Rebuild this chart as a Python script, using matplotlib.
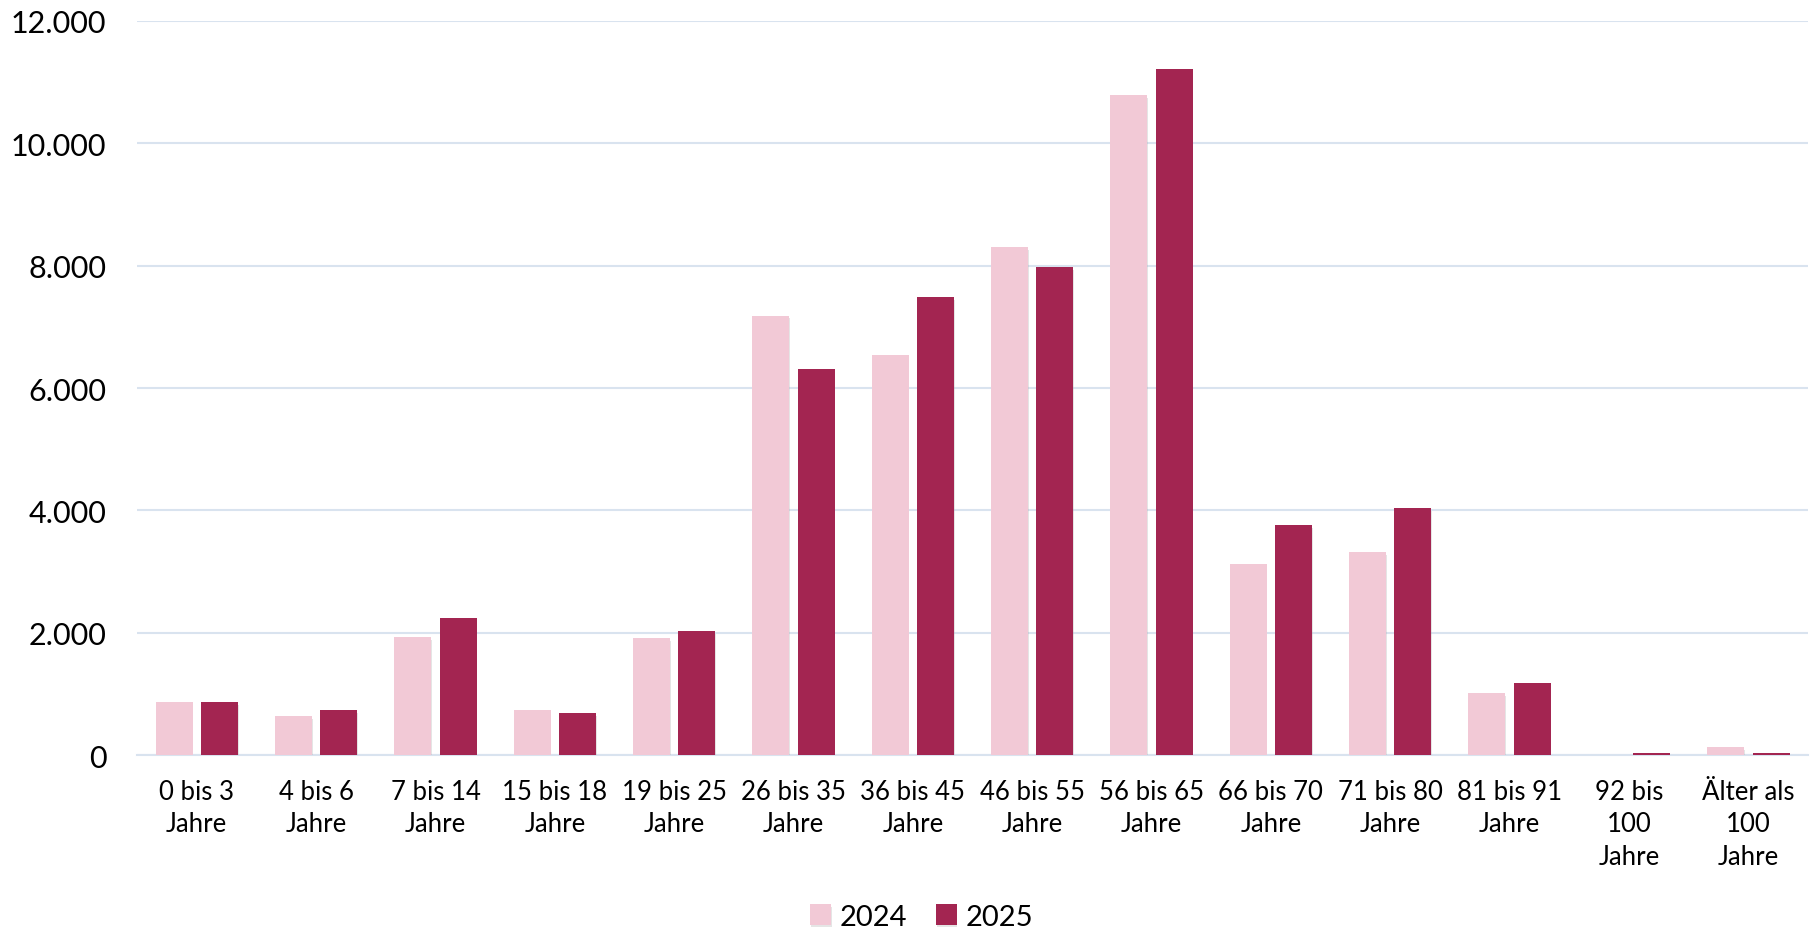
import numpy as np
import matplotlib
matplotlib.use("Agg")
import matplotlib.pyplot as plt
import matplotlib.patheffects as pe
from matplotlib.ticker import FuncFormatter

plt.rcParams["font.family"] = ["Lato", "DejaVu Sans"]

# age groups and counts per year
categories = [
    "0 bis 3\nJahre", "4 bis 6\nJahre", "7 bis 14\nJahre", "15 bis 18\nJahre",
    "19 bis 25\nJahre", "26 bis 35\nJahre", "36 bis 45\nJahre", "46 bis 55\nJahre",
    "56 bis 65\nJahre", "66 bis 70\nJahre", "71 bis 80\nJahre", "81 bis 91\nJahre",
    "92 bis\n100\nJahre", "Älter als\n100\nJahre",
]
values_2024 = [871, 633, 1934, 736, 1915, 7185, 6540, 8303, 10790, 3128, 3318, 1009, 3, 131]
values_2025 = [862, 731, 2237, 682, 2028, 6313, 7488, 7981, 11218, 3754, 4038, 1177, 28, 28]

color_2024 = "#F2C9D6"
color_2025 = "#A32551"
grid_color = "#D9E3EF"

fig = plt.figure(figsize=(18.18, 9.28), dpi=100)
ax = fig.add_axes([0.0754, 0.1853, 0.9191, 0.791])

x = np.arange(len(categories))
width = 0.31
shadow = [pe.SimplePatchShadow(offset=(0.5, -2), shadow_rgbFace="#aaaaaa", alpha=0.3), pe.Normal()]
b1 = ax.bar(x - 0.19, values_2024, width, color=color_2024, label="2024", zorder=3)
b2 = ax.bar(x + 0.19, values_2025, width, color=color_2025, label="2025", zorder=3)
for bar in list(b1) + list(b2):
    bar.set_path_effects(shadow)

ax.set_xlim(-0.5, len(categories) - 0.5)
ax.set_ylim(0, 12000)
ax.set_yticks(range(0, 12001, 2000))
ax.yaxis.set_major_formatter(FuncFormatter(lambda v, p: f"{int(v):,}".replace(",", ".")))
ax.grid(axis="y", color=grid_color, linewidth=1.5, zorder=0)
ax.set_xticks(x)
ax.set_xticklabels(categories, fontsize=18.5, linespacing=1.38, va="top")

for s in ["top", "right", "left"]:
    ax.spines[s].set_visible(False)
ax.spines["bottom"].set_color(grid_color)
ax.spines["bottom"].set_linewidth(1.5)
ax.tick_params(axis="y", length=0, labelsize=22, pad=22)
ax.tick_params(axis="x", length=0, pad=17)

fig.legend(handles=[b1, b2], labels=["2024", "2025"], loc="center",
           bbox_to_anchor=(0.507, 0.011), ncol=2, frameon=False, fontsize=21,
           handlelength=0.7, handleheight=0.7, handletextpad=0.3, columnspacing=1.0)

fig.savefig("out.png", dpi=100)
